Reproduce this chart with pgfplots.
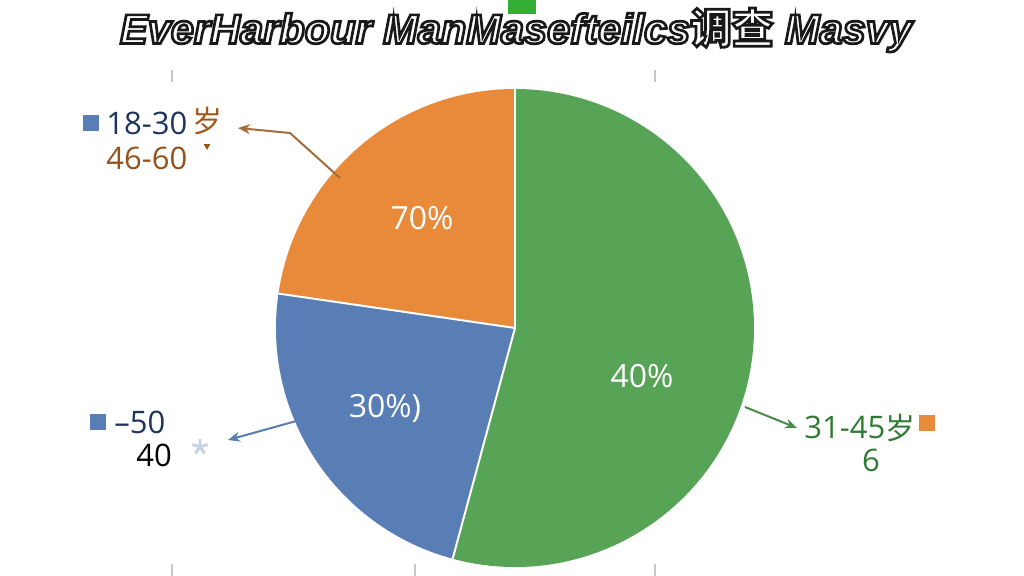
\documentclass[border=0pt]{standalone}
\usepackage{pgfplots}
\pgfplotsset{compat=1.18}
\usepackage{pgfplotstable}
\usepackage{fontspec}
\usetikzlibrary{arrows.meta}
\setmainfont{Open Sans}
\newfontfamily\cjk{Noto Sans CJK SC}
\newfontfamily\titlefont{Liberation Sans}
\definecolor{pieorange}{RGB}{232,138,58}
\definecolor{pieblue}{RGB}{88,126,181}
\definecolor{piegreen}{RGB}{88,164,87}
\definecolor{navy}{RGB}{31,52,90}
\definecolor{lbrown}{RGB}{150,82,24}
\definecolor{lgreen}{RGB}{48,122,52}

\pgfplotstableread{
group share
46-60 22.7
18-30 23.1
31-45 54.2
}\piedata

\begin{document}
\begin{tikzpicture}
\pgfplotstablegetelem{0}{share}\of\piedata \pgfmathsetmacro\sA{\pgfplotsretval}
\pgfplotstablegetelem{1}{share}\of\piedata \pgfmathsetmacro\sB{\pgfplotsretval}
\pgfplotstablegetelem{2}{share}\of\piedata \pgfmathsetmacro\sC{\pgfplotsretval}
\pgfmathsetmacro\aA{90}
\pgfmathsetmacro\aB{90+3.6*\sA}
\pgfmathsetmacro\aC{\aB+3.6*\sB}
\pgfmathsetmacro\aD{\aC+3.6*\sC}
\def\R{119.5pt}
\begin{axis}[x=0.5pt,y=0.5pt,xmin=0,xmax=1024,ymin=0,ymax=576,
  hide axis, scale only axis, clip=false]
% wedges
\fill[pieorange] (axis cs:515,248) -- ++(\aA:\R) arc[start angle=\aA, end angle=\aB, radius=\R] -- cycle;
\fill[pieblue] (axis cs:515,248) -- ++(\aB:\R) arc[start angle=\aB, end angle=\aC, radius=\R] -- cycle;
\fill[piegreen] (axis cs:515,248) -- ++(\aC:\R) arc[start angle=\aC, end angle=\aD, radius=\R] -- cycle;
\draw[white, line width=1pt] (axis cs:515,248) -- ++(\aA:\R);
\draw[white, line width=1pt] (axis cs:515,248) -- ++(\aB:\R);
\draw[white, line width=1pt] (axis cs:515,248) -- ++(\aC:\R);
% faint tick marks
\addplot[gray!45, line width=0.6pt] coordinates {(172,494) (172,506)};
\addplot[gray!45, line width=0.6pt] coordinates {(655,494) (655,506)};
\addplot[gray!45, line width=0.6pt] coordinates {(172,0) (172,12)};
\addplot[gray!45, line width=0.6pt] coordinates {(415,0) (415,12)};
\addplot[gray!45, line width=0.6pt] coordinates {(655,0) (655,12)};
% green artifact
\addplot[fill=green!60!black!80, draw=none] coordinates {(508,562) (536,562) (536,576) (508,576)} -- cycle;
% callout arrows
\addplot[lbrown!85, line width=1pt, -{Stealth[length=6pt,width=5pt]}] coordinates {(340,398) (290,443) (238,448)};
\addplot[pieblue, line width=1pt, -{Stealth[length=6pt,width=5pt]}] coordinates {(300,156) (228,136)};
\addplot[piegreen!85!black, line width=1pt, -{Stealth[length=6pt,width=5pt]}] coordinates {(745,169) (797,148)};
% legend squares
\addplot[only marks, mark=square*, mark size=3.6pt, color=pieblue] coordinates {(91,453)};
\addplot[only marks, mark=square*, mark size=3.8pt, color=pieblue] coordinates {(98,154)};
\addplot[only marks, mark=square*, mark size=3.8pt, color=pieorange] coordinates {(927,153)};
\addplot[only marks, mark=triangle*, mark size=1.5pt, color=lbrown, mark options={rotate=180}] coordinates {(207,430)};
\addplot[only marks, mark=star, mark size=4pt, color=pieblue!35, line width=1.4pt] coordinates {(200,129)};
% labels
\node[anchor=west, text=navy, font=\fontsize{15.5}{18}\selectfont, inner sep=0pt] at (axis cs:106,453) {18-30};
\node[text=lbrown!90!orange, font=\fontsize{15}{18}\selectfont\cjk, inner sep=0pt] at (axis cs:207,455) {岁};
\node[anchor=west, text=lbrown, font=\fontsize{15.5}{18}\selectfont, inner sep=0pt] at (axis cs:106,418) {46-60};
\node[anchor=west, text=navy, font=\fontsize{15.5}{18}\selectfont, inner sep=0pt] at (axis cs:114,154) {–50};
\node[anchor=west, text=black, font=\fontsize{15.5}{18}\selectfont, inner sep=0pt] at (axis cs:136,121) {40};
\node[anchor=west, text=lgreen, font=\fontsize{15.5}{18}\selectfont, inner sep=0pt] at (axis cs:804,149) {31-45};
\node[text=lgreen, font=\fontsize{15}{18}\selectfont\cjk, inner sep=0pt] at (axis cs:900,148) {岁};
\node[text=lgreen, font=\fontsize{15.5}{18}\selectfont, inner sep=0pt] at (axis cs:871,116) {6};
\node[text=white, font=\fontsize{16}{19}\selectfont, inner sep=0pt] at (axis cs:422,358) {70\%};
\node[text=white, font=\fontsize{16}{19}\selectfont, inner sep=0pt] at (axis cs:385,168) {30\%)};
\node[text=white, font=\fontsize{16}{19}\selectfont, inner sep=0pt] at (axis cs:642,200) {40\%};
% title
\node[inner sep=0pt] at (axis cs:516,546) {\resizebox{396pt}{!}{\fontsize{20}{24}\selectfont\color{white}\special{pdf:code 2 Tr 1.3 w 0.1 0.1 0.1 RG}\titlefont\bfseries\itshape EverHarbour ManMasefteilcs{\cjk 调查} Masvy\special{pdf:code 0 Tr}}};
\end{axis}
\pgfresetboundingbox
\path (0,0) rectangle (512pt,288pt);
\end{tikzpicture}
\end{document}
